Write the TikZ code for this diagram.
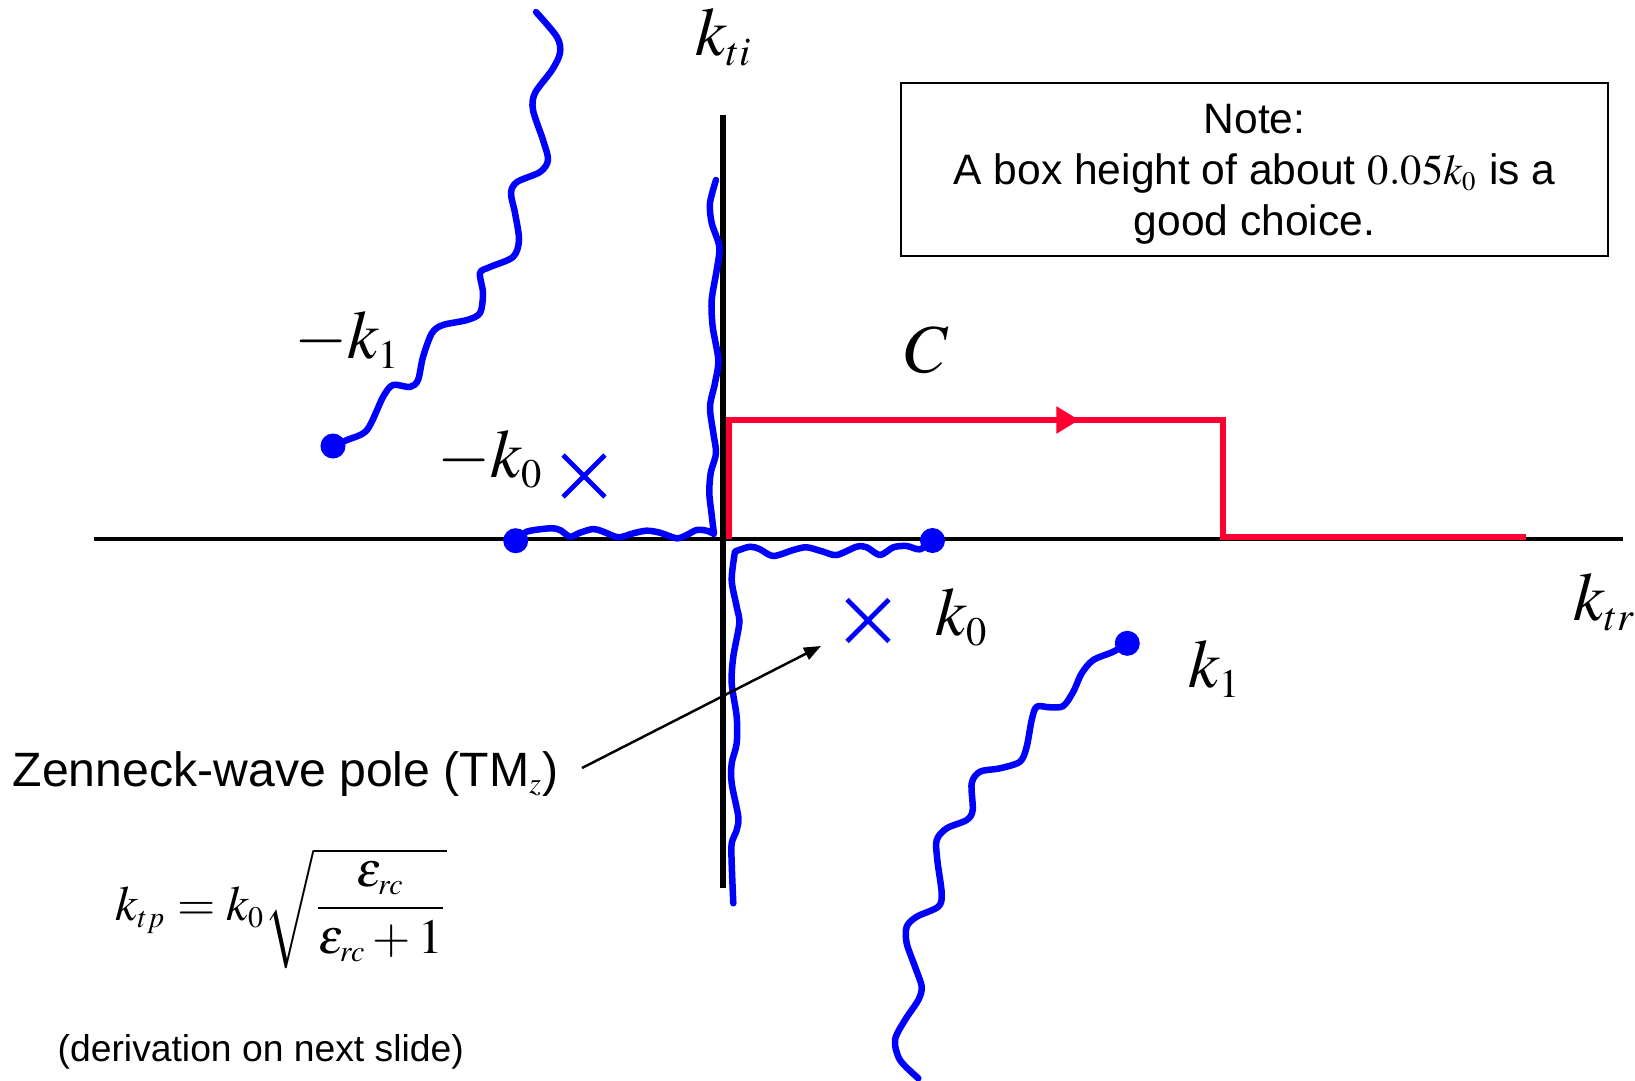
\documentclass[tikz,border=0pt]{standalone}
\usepackage{mathptmx}
\usepackage[no-math]{fontspec}
\setmainfont{Liberation Sans}
\usetikzlibrary{arrows.meta,shapes.misc,decorations.markings}
\definecolor{cred}{RGB}{255,0,51}
\DeclareMathSizes{19.5}{19.5}{11.5}{9}
\DeclareMathSizes{14}{14}{8.5}{7}
\DeclareMathSizes{13.7}{13.7}{8.5}{7}
\DeclareMathSizes{12.1}{12.1}{7.6}{6}

\begin{document}
\begin{tikzpicture}[x=0.01cm,y=-0.01cm,
		axisline/.style={line width=0.95pt},
		branch/.style={draw=blue, line width=1.85pt, line cap=round, line join=round},
		contour/.style={draw=cred, line width=1.75pt, line join=miter},
		endpt/.style={circle, fill=blue, inner sep=0pt, minimum size=0.25cm},
		polemark/.style={cross out, draw=blue, line width=1.4pt, inner sep=0pt, minimum size=0.37cm},
		mlabel/.style={font=\fontsize{19.5}{23}\selectfont, inner sep=0pt, anchor=base west},
		pointer/.style={line width=0.7pt, -{Triangle[length=0.17cm, width=0.13cm]}},
		notebox/.style={draw, line width=0.5pt, minimum width=7.07cm, minimum height=1.73cm, align=center, text depth=0pt, font=\fontsize{12.1}{14.5}\selectfont}
		]
		\useasboundingbox (0,0) rectangle (1635,1081);
		% axes
		\coordinate (xa) at (94,539);
		\coordinate (xb) at (1623,539);
		\coordinate (ya) at (723,115);
		\coordinate (yb) at (723,888);
		\draw[axisline] (xa) -- (xb);
		\draw[line width=1.55pt] (ya) -- (yb);
		% branch points
		\coordinate (bA) at (333,446);
		\coordinate (bB) at (515.7,540.7);
		\coordinate (bC) at (932.5,540.5);
		\coordinate (bD) at (1127.3,643.3);
		% branch cuts
		\draw[branch] plot[smooth] coordinates {(bA) (347,440) (367,430) (383,397) (393,385) (410,387) (418,380) (423,357) (432,333) (443,325) (467,320) (480,313) (483,293) (480,273) (490,267) (513,257) (519,240) (515,213) (511,193) (517,182) (540,172) (548,160) (543,140) (533,110) (535,93) (552,70) (560,53) (557,37) (536,12)};
		\draw[branch] plot[smooth] coordinates {(bB) (526.7,531.7) (550,528.3) (560,530) (570,536.7) (580,532.7) (593.3,529) (603.3,531.7) (618.3,537.3) (633.3,533.3) (646.7,530.7) (660,532.7) (676.7,538.3) (686.7,535) (696.7,530) (706.7,530.7) (714,534)}
			-- plot[smooth] coordinates {(714,534) (711.7,515) (709.3,493) (710.7,473) (716,453) (713.3,433) (710,406.7) (715,383) (718.3,360) (712.7,326.7) (711.7,300) (716.7,270) (719.3,246.7) (711.7,223) (710,203) (716,180)};
		\draw[branch] plot[smooth] coordinates {(bC) (920,549.3) (906.7,546) (893.3,547.3) (880,555) (866.7,547.3) (856.7,546.7) (836.7,555) (823.3,551.7) (806.7,547.3) (793.3,550) (773.3,556) (760,549.3) (750,546.7) (735,551.5)}
			-- plot[smooth] coordinates {(735,551.5) (731.7,580) (736.7,606.7) (739.3,623.3) (733.3,656.7) (731.7,683.3) (736.7,716.7) (736.7,743.3) (731.7,763.3) (731.7,783.3) (738.3,816.7) (736.7,830) (731.7,843.3) (731.7,863.3) (733.3,903.3)};
		\draw[branch] plot[smooth] coordinates {(bD) (1113.3,651.7) (1093.3,660) (1081.7,673.3) (1073.3,691.7) (1063.3,706) (1050,707.3) (1036.7,706.7) (1031.7,720) (1026.7,746.7) (1020,761.7) (1000,768.3) (980,771.7) (971.7,783.3) (972.7,810) (966.7,820) (946.7,828.3) (936.7,840) (937.3,860) (941.7,893.3) (938.3,906.7) (916.7,916.7) (906.7,926.7) (906.7,943.3) (915,966.7) (921.7,986.7) (918.3,1000) (905,1020) (895,1040) (900,1060) (918.3,1078.3)};
		\node[endpt] (dA) at (bA) {};
		\node[endpt] (dB) at (bB) {};
		\node[endpt] (dC) at (bC) {};
		\node[endpt] (dD) at (bD) {};
		% poles
		\node[polemark] (pL) at (584,476) {};
		\node[polemark] (pR) at (868,620.5) {};
		% contour C
		\coordinate (c0) at (729,539);
		\coordinate (c1) at (729,420);
		\coordinate (c2) at (1223,420);
		\coordinate (c3) at (1223,537);
		\coordinate (c4) at (1526,537);
		\draw[contour, postaction={decorate}, decoration={markings, mark=at position 4.69cm with {\arrow[cred]{Triangle[length=0.23cm, width=0.26cm]}}}] (c0) -- (c1) -- (c2) -- (c3) -- (c4);
		% labels
		\node[mlabel] (lti) at (695,55) {$k_{ti}$};
		\node[mlabel] (lmk1) at (294,358) {$-k_1$};
		\node[mlabel] (lmk0) at (437,477.5) {$-k_0$};
		\node[mlabel, anchor=base] (lC) at (927,372) {$C$};
		\node[mlabel] (lk0) at (935,635) {$k_0$};
		\node[mlabel] (lk1) at (1188,687) {$k_1$};
		\node[mlabel] (ltr) at (1573,620) {$k_{tr}$};
		\node[notebox] (note) at (1254.5,169.5) {Note:\\A box height of about $0.05k_0$ is a\\good choice.};
		% Zenneck pole
		\node[anchor=base west, inner sep=0pt, font=\fontsize{13.7}{16}\selectfont] (zlabel) at (12,786) {Zenneck-wave pole (TM$_z$)};
		\coordinate (ztail) at (582,768);
		\coordinate (ztip) at (821,646);
		\draw[pointer] (ztail) -- (ztip);
		\node[anchor=base west, inner sep=0pt, font=\fontsize{14}{17}\selectfont] (ktp) at (115,920) {$k_{tp}=k_0\sqrt{\displaystyle\frac{\varepsilon_{rc}}{\varepsilon_{rc}+1}}$};
		\node[anchor=base west, inner sep=0pt, font=\fontsize{10.6}{13}\selectfont] (deriv) at (57,1061) {(derivation on next slide)};
	\end{tikzpicture}
\end{document}
